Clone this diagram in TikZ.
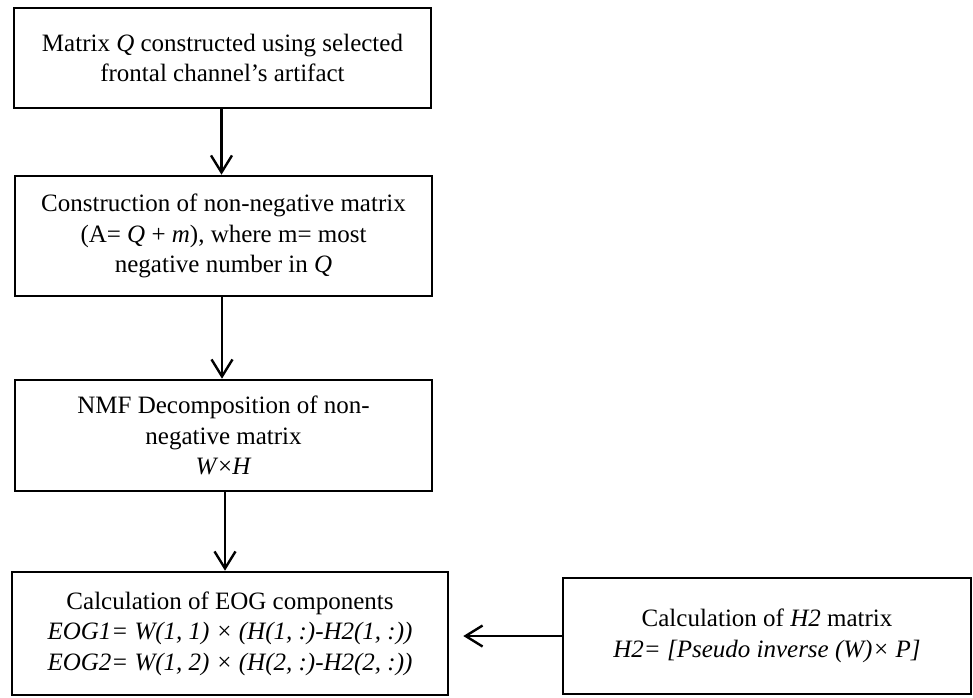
\documentclass[tikz,border=0pt]{standalone}
\usepackage{fontspec}
\setmainfont{Liberation Serif}
\usetikzlibrary{arrows.meta}
\begin{document}
\begin{tikzpicture}[x=1pt,y=-1pt,
  box/.style={draw=black, line width=2.6pt, align=center, inner sep=0pt,
    font=\fontsize{25}{30.5}\selectfont},
  arr/.style={line width=2.4pt, -{Straight Barb[length=17pt,width=21pt,line width=2.4pt]}}]
\useasboundingbox (0,0) rectangle (973,697);
\node[box, minimum width=417pt, minimum height=100pt] (b1) at (222.5,58)
  {Matrix \textit{Q} constructed using selected\\frontal channel’s artifact};
\node[box, minimum width=417pt, minimum height=120pt] (b2) at (223.5,236)
  {Construction of non-negative matrix\\(A= \textit{Q} + \textit{m}), where m= most\\negative number in \textit{Q}};
\node[box, minimum width=417pt, minimum height=111pt] (b3) at (223.5,435.5)
  {NMF Decomposition of non-\\negative matrix\\\textit{W}×\textit{H}};
\node[box, minimum width=436pt, minimum height=123pt] (b4) at (230,633.5)
  {Calculation of EOG components\\\textit{EOG1= W(1, 1) × (H(1, :)-H2(1, :))}\\\textit{EOG2= W(1, 2) × (H(2, :)-H2(2, :))}};
\node[box, minimum width=408pt, minimum height=116pt] (b5) at (767,636)
  {Calculation of \textit{H2} matrix\\\textit{H2= [Pseudo inverse (W)× P]}};
\draw[arr] ([xshift=-1pt]b1.south) -- ([xshift=-1pt]b1.south |- b2.north);
\draw[arr] ([xshift=-1.5pt]b2.south) -- ([xshift=-1.5pt]b2.south |- b3.north);
\draw[arr] ([xshift=1.5pt]b3.south) -- ([xshift=1.5pt]b3.south |- b4.north);
\draw[arr] (b5.west) -- ([xshift=14pt]b4.east |- b5.west);
\end{tikzpicture}
\end{document}
